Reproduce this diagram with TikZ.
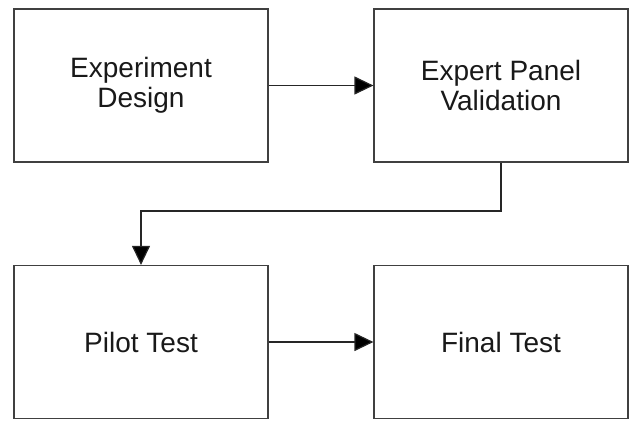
\documentclass[tikz,border=0pt]{standalone}
\usepackage{fontspec}
\setmainfont{Liberation Sans}
\usetikzlibrary{arrows.meta}
\begin{document}
\begin{tikzpicture}[x=1pt,y=-1pt,
  stage/.style={draw=black!75, line width=1.2pt, minimum width=254pt, minimum height=153pt,
    inner sep=0pt, align=center, font=\fontsize{28}{30}\selectfont, text=black!90},
  flow/.style={draw=black!85, line width=1.2pt, -{Triangle[length=19pt,width=18pt,fill=black]}}]
  \useasboundingbox (0,0) rectangle (630,421);
  \node[stage] (design) at (141,85.5) {Experiment\\Design};
  \node[stage] (panel) at (501,85.5) {Expert Panel\\Validation};
  \node[stage] (pilot) at (141,342) {Pilot Test};
  \node[stage] (final) at (501,342) {Final Test};
  \coordinate (bendR) at (501,211);
  \coordinate (bendL) at (141,211);
  \draw[flow] (design) -- (panel);
  \draw[flow] (panel.south) -- (bendR) -- (bendL) -- (pilot.north);
  \draw[flow] (pilot) -- (final);
\end{tikzpicture}
\end{document}
